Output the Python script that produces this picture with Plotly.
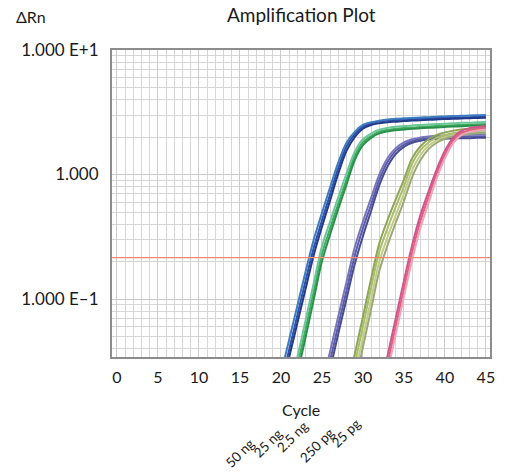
import plotly.graph_objects as go

# ---- data -----------------------------------------------------------------
dose_labels = ["50 ng", "25 ng", "2.5 ng", "250 pg", "25 pg"]

cycles_50ng = list(range(19, 46))
drn_50ng = [
    [0.011, 0.0207, 0.039, 0.074, 0.14, 0.257, 0.427, 0.695, 1.13, 1.68, 2.11, 2.44, 2.57, 2.66,
     2.71, 2.74, 2.76, 2.78, 2.80, 2.82, 2.84, 2.85, 2.87, 2.88, 2.89, 2.91, 2.92],
    [0.013, 0.025, 0.047, 0.088, 0.165, 0.30, 0.49, 0.79, 1.25, 1.80, 2.20, 2.50, 2.63, 2.71,
     2.77, 2.80, 2.83, 2.85, 2.87, 2.89, 2.91, 2.93, 2.95, 2.96, 2.98, 2.99, 3.00],
    [0.0095, 0.018, 0.034, 0.064, 0.12, 0.225, 0.38, 0.62, 1.02, 1.55, 2.00, 2.34, 2.50, 2.58,
     2.63, 2.66, 2.69, 2.71, 2.73, 2.75, 2.77, 2.79, 2.80, 2.82, 2.83, 2.85, 2.86],
]

cycles_25ng = list(range(20, 46))
drn_25ng = [
    [0.0072, 0.0145, 0.029, 0.057, 0.115, 0.23, 0.37, 0.586, 0.91, 1.41, 1.82, 2.04, 2.21, 2.29,
     2.33, 2.36, 2.39, 2.41, 2.43, 2.45, 2.47, 2.49, 2.50, 2.52, 2.53, 2.55],
    [0.0085, 0.017, 0.034, 0.067, 0.134, 0.265, 0.42, 0.66, 1.02, 1.52, 1.92, 2.13, 2.29, 2.37,
     2.42, 2.45, 2.48, 2.50, 2.52, 2.54, 2.56, 2.58, 2.60, 2.61, 2.63, 2.64],
    [0.0062, 0.0125, 0.025, 0.049, 0.099, 0.20, 0.33, 0.53, 0.83, 1.30, 1.72, 1.97, 2.14, 2.22,
     2.27, 2.30, 2.33, 2.35, 2.37, 2.39, 2.41, 2.43, 2.44, 2.46, 2.47, 2.48],
]

cycles_2_5ng = list(range(24, 46))
drn_2_5ng = [
    [0.0089, 0.017, 0.032, 0.062, 0.117, 0.223, 0.37, 0.575, 0.91, 1.26, 1.55, 1.74, 1.86, 1.93,
     1.97, 1.99, 2.00, 2.01, 2.01, 2.02, 2.02, 2.03],
    [0.0105, 0.020, 0.038, 0.073, 0.137, 0.26, 0.42, 0.65, 1.00, 1.35, 1.63, 1.81, 1.92, 1.98,
     2.02, 2.05, 2.06, 2.07, 2.08, 2.09, 2.09, 2.10],
    [0.0076, 0.0145, 0.027, 0.053, 0.10, 0.19, 0.32, 0.51, 0.82, 1.16, 1.46, 1.67, 1.80, 1.87,
     1.91, 1.93, 1.94, 1.95, 1.96, 1.96, 1.97, 1.97],
]

cycles_250pg = list(range(27, 46))
drn_250pg = [
    [0.0073, 0.0147, 0.030, 0.060, 0.123, 0.24, 0.37, 0.55, 0.80, 1.22, 1.56, 1.81, 1.98, 2.08,
     2.15, 2.19, 2.22, 2.24, 2.25],
    [0.0088, 0.0178, 0.036, 0.072, 0.146, 0.28, 0.43, 0.63, 0.91, 1.35, 1.68, 1.92, 2.08, 2.18,
     2.25, 2.30, 2.33, 2.35, 2.37],
    [0.0060, 0.012, 0.0245, 0.049, 0.10, 0.20, 0.315, 0.47, 0.70, 1.08, 1.43, 1.70, 1.88, 2.00,
     2.07, 2.12, 2.15, 2.17, 2.18],
    [0.0050, 0.010, 0.020, 0.041, 0.083, 0.168, 0.27, 0.41, 0.61, 0.95, 1.30, 1.60, 1.80, 1.94,
     2.02, 2.08, 2.12, 2.15, 2.17],
]

cycles_25pg = list(range(31, 46))
drn_25pg = [
    [0.0075, 0.015, 0.030, 0.060, 0.12, 0.235, 0.42, 0.66, 1.02, 1.45, 1.88, 2.15, 2.27, 2.32, 2.35],
    [0.0088, 0.0176, 0.035, 0.070, 0.14, 0.27, 0.47, 0.73, 1.10, 1.55, 1.98, 2.24, 2.36, 2.41, 2.44],
    [0.0065, 0.013, 0.026, 0.052, 0.104, 0.205, 0.37, 0.59, 0.93, 1.35, 1.78, 2.07, 2.20, 2.26, 2.29],
]

threshold = 0.215
x_ticks = [0, 5, 10, 15, 20, 25, 30, 35, 40, 45]
y_ticks = [0.1, 1, 10]
y_tick_text = ["1.000 E\u20131", "1.000", "1.000 E+1"]

# ---- styling --------------------------------------------------------------
W, H = 509, 473
L, R, T, B = 112, 19, 50, 116
FONT = "Lato"
TXT = "#1a1a1a"

groups = [
    (cycles_50ng, drn_50ng, ["#2f4fa8", "#3d7cc0", "#233a8a"]),
    (cycles_25ng, drn_25ng, ["#3fae5e", "#6cc69a", "#2b8f4c"]),
    (cycles_2_5ng, drn_2_5ng, ["#5b5da8", "#7674bb", "#484c94"]),
    (cycles_250pg, drn_250pg, ["#a9bd6a", "#8ea556", "#c3cc86", "#9aa877"]),
    (cycles_25pg, drn_25pg, ["#e0607e", "#d2548c", "#eea3bb"]),
]

fig = go.Figure()
for cyc, reps, cols in groups:
    for vals, col in zip(reps, cols):
        fig.add_trace(go.Scatter(
            x=cyc, y=vals, mode="lines",
            line=dict(color=col, width=2, shape="spline", smoothing=0.9),
            showlegend=False, hoverinfo="skip",
        ))

fig.add_shape(type="line", xref="paper", x0=0, x1=1, yref="y", y0=threshold, y1=threshold,
              line=dict(color="#f0866e", width=1.2), layer="above")


def px_to_paper(px, py):
    return (px - L) / (W - L - R), (H - B - py) / (H - T - B)


annotations = []
for text, px, py, size in [("Amplification Plot", 301, 15, 19),
                           ("Cycle", 301, 409, 16)]:
    xp, yp = px_to_paper(px, py)
    annotations.append(dict(text=text, x=xp, y=yp, xref="paper", yref="paper",
                            showarrow=False, xanchor="center", yanchor="middle",
                            font=dict(family=FONT, size=size, color=TXT)))
xp, yp = px_to_paper(14, 17)
annotations.append(dict(text="\u0394Rn", x=xp, y=yp, xref="paper", yref="paper",
                        showarrow=False, xanchor="left", yanchor="middle",
                        font=dict(family=FONT, size=16, color=TXT)))

# rotated dose captions under the axis title (centred on each caption)
label_pos = [(240, 453), (268, 443), (292, 437), (317, 445), (346, 433)]
for lab, (px, py) in zip(dose_labels, label_pos):
    xp, yp = px_to_paper(px, py)
    annotations.append(dict(text=lab, x=xp, y=yp, xref="paper", yref="paper",
                            showarrow=False, textangle=-45, xanchor="center", yanchor="middle",
                            font=dict(family=FONT, size=13.5, color=TXT)))

fig.update_layout(
    width=W, height=H,
    margin=dict(l=L, r=R, t=T, b=B, pad=0),
    paper_bgcolor="white", plot_bgcolor="white",
    annotations=annotations,
    xaxis=dict(
        range=[-0.6, 45.5], tickvals=x_ticks, ticks="outside", ticklen=5,
        tickcolor="rgba(0,0,0,0)", tickfont=dict(family=FONT, size=16, color=TXT),
        showgrid=True, gridcolor="#cdcdcd", gridwidth=1,
        minor=dict(dtick=1, tick0=0, showgrid=True, gridcolor="#d6d6d6", gridwidth=1),
        showline=True, linecolor="#8c8c8c", linewidth=2, mirror=True, zeroline=False,
    ),
    yaxis=dict(
        type="log", range=[-1.465, 1.0], tickvals=y_ticks, ticktext=y_tick_text,
        ticks="outside", ticklen=8, tickcolor="rgba(0,0,0,0)",
        tickfont=dict(family=FONT, size=17, color=TXT),
        showgrid=True, gridcolor="#cacaca", gridwidth=1,
        minor=dict(dtick="D1", showgrid=True, gridcolor="#d6d6d6", gridwidth=1),
        showline=True, linecolor="#8c8c8c", linewidth=2, mirror=True, zeroline=False,
    ),
)

fig.write_html("out.html")
